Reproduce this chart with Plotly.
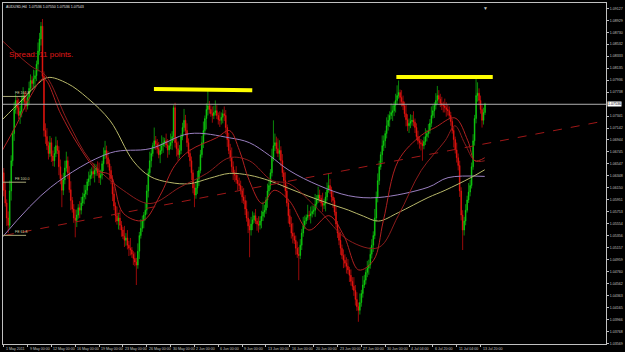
import plotly.graph_objects as go

# ---------------- data (prices in pips above 1.0000: price = 1 + pips/10000) ----------------
open_pips = [
    640,611,590,565,553,610,660,705,745,760, 748,735,742,760,768,758,751,765,780,793,
    788,796,801,820,842,862,883,800,710,700, 685,672,690,668,660,672,685,677,650,630,
    611,628,648,660,640,612,594,580,565,561, 570,582,578,590,600,605,611,625,630,636,
    642,638,644,648,640,632,636,655,670,677, 665,655,644,630,605,585,569,560,565,553,
    545,535,528,532,520,515,512,505,498,492, 487,510,536,548,560,570,578,610,640,660,
    672,685,693,688,680,670,677,685,690,693, 686,678,685,690,700,748,690,680,670,677,
    700,715,727,710,690,672,660,640,615,603, 615,630,644,670,690,710,730,745,751,745,
    738,735,740,743,735,728,727,732,738,735, 715,695,677,665,650,640,636,628,622,619,
    610,600,594,580,565,552,545,555,562,569, 560,555,553,560,568,575,578,595,610,619,
    640,665,685,690,680,672,677,660,640,627, 610,590,569,555,540,535,528,515,505,503,
    520,540,553,560,566,570,569,572,576,578, 588,596,603,598,590,586,589,600,612,619,
    612,600,594,575,555,540,528,515,503,495, 490,485,479,470,460,452,445,430,418,412,
    425,440,454,462,475,482,487,505,520,536, 565,600,627,650,670,685,693,705,718,727,
    735,740,743,752,760,768,773,765,758,751, 738,728,718,722,725,727,724,715,700,693,
    690,688,685,692,700,705,710,722,735,743, 752,760,768,762,755,752,751,748,745,743,
    735,725,710,695,678,665,652,610,570,545, 560,578,595,608,619,650,693,730,768,772,
    760,745,727,740,
]
close_pips = [
    611,590,565,553,610,660,705,745,760,748, 735,742,760,768,758,751,765,780,793,788,
    796,801,820,842,862,883,800,710,700,685, 672,690,668,660,672,685,677,650,630,611,
    628,648,660,640,612,594,580,565,561,570, 582,578,590,600,605,611,625,630,636,642,
    638,644,648,640,632,636,655,670,677,665, 655,644,630,605,585,569,560,565,553,545,
    535,528,532,520,515,512,505,498,492,487, 510,536,548,560,570,578,610,640,660,672,
    685,693,688,680,670,677,685,690,693,686, 678,685,690,700,748,690,680,670,677,700,
    715,727,710,690,672,660,640,615,603,615, 630,644,670,690,710,730,745,751,745,738,
    735,740,743,735,728,727,732,738,735,715, 695,677,665,650,640,636,628,622,619,610,
    600,594,580,565,552,545,555,562,569,560, 555,553,560,568,575,578,595,610,619,640,
    665,685,690,680,672,677,660,640,627,610, 590,569,555,540,535,528,515,505,503,520,
    540,553,560,566,570,569,572,576,578,588, 596,603,598,590,586,589,600,612,619,612,
    600,594,575,555,540,528,515,503,495,490, 485,479,470,460,452,445,430,418,412,425,
    440,454,462,475,482,487,505,520,536,565, 600,627,650,670,685,693,705,718,727,735,
    740,743,752,760,768,773,765,758,751,738, 728,718,722,725,727,724,715,700,693,690,
    688,685,692,700,705,710,722,735,743,752, 760,768,762,755,752,751,748,745,743,735,
    725,710,695,678,665,652,610,570,545,560, 578,595,608,619,650,693,730,768,772,760,
    745,727,740,754,
]
high_pips = [
    648,625,596,576,627,669,710,757,770,767, 763,751,768,782,774,775,769,791,803,800,
    811,810,826,856,872,890,895,808,722,714, 692,701,698,677,683,700,694,684,662,637,
    640,660,675,667,651,626,600,588,579,579, 588,593,600,607,620,620,630,642,646,649,
    656,655,654,659,657,645,660,682,693,685, 676,662,651,636,617,591,584,574,579,560,
    550,552,540,545,527,532,517,510,508,499, 523,542,563,569,575,590,620,647,675,681,
    690,715,701,696,691,688,702,699,698,705, 696,692,705,709,752,756,698,692,686,705,
    723,746,736,722,697,679,667,645,622,626, 643,650,678,701,725,735,755,776,759,752,
    750,751,760,752,740,742,740,745,750,744, 720,706,688,682,659,645,651,637,632,627,
    618,615,603,594,576,563,567,576,574,580, 565,568,568,577,592,587,600,622,629,646,
    680,727,705,700,697,694,684,671,645,641, 620,597,580,567,557,541,536,526,517,530,
    547,567,569,571,587,577,584,586,585,605, 603,617,612,603,607,597,608,624,639,630,
    617,609,599,584,560,546,542,521,513,505, 500,497,484,480,467,467,454,442,425,440,
    446,469,471,480,494,496,517,530,543,580, 609,639,660,675,702,702,710,732,737,742,
    755,752,758,771,785,793,778,777,768,758, 753,737,730,737,736,742,730,722,710,701,
    696,694,700,714,711,721,729,750,752,757, 772,784,777,771,766,758,763,757,753,750,
    741,730,716,700,690,672,660,616,578,567, 588,602,623,628,657,704,736,801,790,780,
    768,752,748,756,
]
low_pips = [
    601,584,552,540,548,594,651,693,738,737, 729,721,732,755,745,741,745,752,773,777,
    782,782,792,808,835,851,795,700,688,678, 662,666,658,651,650,666,671,636,621,583,
    603,621,642,630,607,578,574,557,533,550, 564,565,571,585,588,596,603,618,619,630,
    631,624,635,635,623,620,629,643,663,654, 649,630,621,593,578,558,554,546,545,534,
    530,517,519,513,502,503,499,487,485,454, 481,497,531,542,548,561,571,599,634,649,
    667,679,678,672,664,656,671,673,683,681, 665,670,679,678,693,682,667,660,664,671,
    694,708,702,683,666,650,628,606,583,597, 605,618,639,665,681,702,712,735,738,733,
    723,729,735,729,720,716,720,722,726,704, 683,671,659,641,628,625,622,611,612,604,
    590,588,570,559,540,500,536,545,557,555, 544,541,546,548,560,566,572,582,603,612,
    634,659,676,672,666,661,651,633,615,599, 584,556,550,531,523,522,504,499,462,497,
    512,534,547,555,561,562,556,566,571,567, 582,590,591,584,575,580,576,594,607,605,
    591,582,569,549,532,520,504,497,482,483, 473,472,459,453,446,436,420,411,393,405,
    418,433,449,455,467,471,481,498,509,530, 559,591,620,645,657,676,681,697,710,716,
    729,726,734,740,753,763,752,750,744,732, 717,709,706,714,718,717,706,694,687,680,
    677,660,679,686,692,698,705,716,730,731, 745,754,756,749,744,740,740,733,735,730,
    718,705,682,672,657,644,600,561,512,536, 553,574,590,601,614,645,685,722,758,752,
    738,715,720,736,
]

# moving averages: (bar index, pips)
ma_khaki_bar = [-1, 11.5, 21.5, 29.5, 42.8, 56.2, 71.5, 86.8, 98.2, 111.5, 124.8, 138.2, 151.5, 164.8,
                178.2, 191.5, 204.8, 218.2, 231.5, 241.5, 251.5, 264.8, 284.8, 296.2, 313.5, 322.8]
ma_khaki_pips = [728, 759, 784, 798, 788, 764, 726, 660, 634, 624, 622, 631, 639, 636,
                 627, 614, 601, 589, 578, 568, 560, 574, 599, 611, 632, 645]
ma_purple_bar = [-1, 31.5, 71.5, 98.2, 124.8, 151.5, 164.8, 178.2, 191.5, 211.5, 231.5, 251.5, 284.8, 298.2, 322.8]
ma_purple_pips = [533, 616, 673, 680, 705, 698, 690, 669, 644, 619, 602, 599, 616, 632, 634]
ma_red_fast_bar = [-1, 8.2, 18.2, 26.8, 38.2, 49.5, 62.8, 71.5, 80.2, 93.5, 104.8, 114.8, 124.8, 142.8,
                   151.5, 158.2, 164.8, 173.5, 181.5, 191.5, 204.8, 218.2, 228.2, 238.2, 248.2, 254.8,
                   264.8, 280.2, 289.5, 302.8, 311.5, 316.2, 322.8]
ma_red_fast_pips = [677, 718, 768, 796, 738, 688, 644, 636, 573, 561, 602, 652, 677, 698,
                    710, 677, 627, 589, 611, 594, 545, 569, 536, 479, 495, 561,
                    660, 702, 715, 731, 693, 660, 665]
ma_red_slow_bar = [-1, 18.2, 28.2, 42.8, 58.2, 80.2, 98.2, 118.2, 136.2, 151.5, 164.8, 180.2, 191.5,
                   211.5, 231.5, 251.5, 264.8, 280.2, 296.2, 302.8, 309.5, 316.2, 322.8]
ma_red_slow_pips = [859, 817, 801, 726, 660, 611, 589, 616, 639, 665, 660, 627, 622,
                    578, 528, 516, 569, 644, 693, 718, 688, 660, 660]

# drawn objects
fe_levels_pips = [766.6, 624.4, 536.3]
fe_labels = ["FE 161.8", "FE 100.0", "FE 61.8"]
trend_bars = [0.8, 404.2]
trend_pips = [536.3, 726.4]
yellow1_bars = [100.8, 166.8]
yellow1_pips = [779, 777]
yellow2_bars = [263.5, 328.2]
yellow2_pips = [799, 799]
bid_price = 1.07536

date_tick_bars = [16 * k for k in range(21)]
date_tick_text = ["1 May 2011", "9 May 00:00", "12 May 00:00", "16 May 00:00", "19 May 00:00",
                  "23 May 00:00", "26 May 00:00", "30 May 00:00", "2 Jun 00:00", "6 Jun 00:00",
                  "9 Jun 00:00", "13 Jun 00:00", "16 Jun 00:00", "20 Jun 00:00", "23 Jun 00:00",
                  "27 Jun 00:00", "30 Jun 00:00", "4 Jul 04:00", "6 Jul 20:00", "11 Jul 04:00",
                  "13 Jul 20:00"]
price_ticks = [1.09127, 1.08929, 1.08730, 1.08532, 1.08333, 1.08135, 1.07936, 1.07738,
               1.07341, 1.07142, 1.06944, 1.06745, 1.06547, 1.06348, 1.06150, 1.05951,
               1.05753, 1.05554, 1.05356, 1.05157, 1.04959, 1.04760, 1.04562, 1.04363,
               1.04165, 1.03966, 1.03768, 1.03569]


def px(v):
    return 1.0 + v / 10000.0


def pxl(vals):
    return [px(v) for v in vals]


bars = list(range(len(close_pips)))
FONT = "Liberation Sans, Arial, sans-serif"
AX = "#c0c0c0"
SMALL = 3.6

fig = go.Figure()

# moving averages (under candles)
for xs, ys, col in [(ma_purple_bar, ma_purple_pips, "#9a7fc0"),
                    (ma_khaki_bar, ma_khaki_pips, "#b8b86a"),
                    (ma_red_slow_bar, ma_red_slow_pips, "#8b1c1c"),
                    (ma_red_fast_bar, ma_red_fast_pips, "#b02020")]:
    fig.add_trace(go.Scatter(x=xs, y=pxl(ys), mode="lines",
                             line=dict(color=col, width=1, shape="spline", smoothing=1.0),
                             hoverinfo="skip", showlegend=False))

fig.add_trace(go.Candlestick(
    x=bars, open=pxl(open_pips), high=pxl(high_pips), low=pxl(low_pips), close=pxl(close_pips),
    increasing=dict(line=dict(color="#10e010", width=0.6), fillcolor="#10c010"),
    decreasing=dict(line=dict(color="#ff1010", width=0.6), fillcolor="#e02a10"),
    whiskerwidth=0, showlegend=False, hoverinfo="skip"))

# trend line (dashed dark red)
fig.add_trace(go.Scatter(x=trend_bars, y=pxl(trend_pips), mode="lines",
                         line=dict(color="#a01818", width=1, dash="dash"),
                         hoverinfo="skip", showlegend=False))

# fibonacci expansion level stubs
for lvl in fe_levels_pips:
    fig.add_trace(go.Scatter(x=[-0.5, 15], y=[px(lvl), px(lvl)], mode="lines",
                             line=dict(color="#a8a878", width=1),
                             hoverinfo="skip", showlegend=False))
for lvl, txt in zip(fe_levels_pips, fe_labels):
    fig.add_annotation(x=6, y=px(lvl), text=txt, showarrow=False, xanchor="left", yanchor="bottom",
                       font=dict(family=FONT, size=SMALL, color="#d8d8a8"), yshift=-1)

# yellow resistance marks
for xs, ys in [(yellow1_bars, yellow1_pips), (yellow2_bars, yellow2_pips)]:
    fig.add_trace(go.Scatter(x=xs, y=pxl(ys), mode="lines",
                             line=dict(color="#ffff00", width=4),
                             hoverinfo="skip", showlegend=False))

# bid line
fig.add_shape(type="line", xref="paper", x0=0, x1=1, yref="y", y0=bid_price, y1=bid_price,
              line=dict(color="#b0b0b0", width=1))

# date labels
for b, t in zip(date_tick_bars, date_tick_text):
    fig.add_annotation(x=b, y=0, yref="paper", text=t, showarrow=False, xanchor="left",
                       yanchor="top", yshift=-1, xshift=0,
                       font=dict(family=FONT, size=SMALL, color=AX))

# current price box
fig.add_annotation(x=1, xref="paper", y=bid_price, text="1.07536", showarrow=False,
                   xanchor="left", yanchor="middle", bgcolor="#ffffff", borderpad=0, xshift=1,
                   font=dict(family=FONT, size=SMALL, color="#000000"))

# header and spread
fig.add_annotation(x=0.002, xref="paper", y=0.988, yref="paper",
                   text="AUDUSD,H4  1.07536 1.07550 1.07536 1.07543", showarrow=False,
                   xanchor="left", yanchor="middle", font=dict(family=FONT, size=SMALL, color="#e0e0e0"))
fig.add_annotation(x=0.006, xref="paper", y=0.848, yref="paper", text="Spread: 11 points.",
                   showarrow=False, xanchor="left", yanchor="middle",
                   font=dict(family=FONT, size=8, color="#e01818"))
# chart shift marker
fig.add_annotation(x=323, y=1, yref="paper", text="▼", showarrow=False, yanchor="top",
                   font=dict(family=FONT, size=5, color="#c0c0c0"))

fig.update_layout(
    width=625, height=352, margin=dict(l=2, r=16, t=2, b=8),
    paper_bgcolor="#000000", plot_bgcolor="#000000", showlegend=False,
    xaxis=dict(range=[-0.5, 404.2], showgrid=False, zeroline=False, showline=True,
               linecolor=AX, linewidth=1, mirror=True, tickvals=date_tick_bars,
               ticks="outside", ticklen=2, tickcolor=AX, showticklabels=False,
               rangeslider=dict(visible=False)),
    yaxis=dict(range=[1.035618, 1.092150], side="right", showgrid=False, zeroline=False,
               showline=True, linecolor=AX, linewidth=1, mirror=True,
               tickvals=price_ticks, ticktext=["%.5f" % v for v in price_ticks],
               ticks="outside", ticklen=2, tickcolor=AX,
               tickfont=dict(family=FONT, size=SMALL, color=AX)),
)

fig.write_html("out.html")
